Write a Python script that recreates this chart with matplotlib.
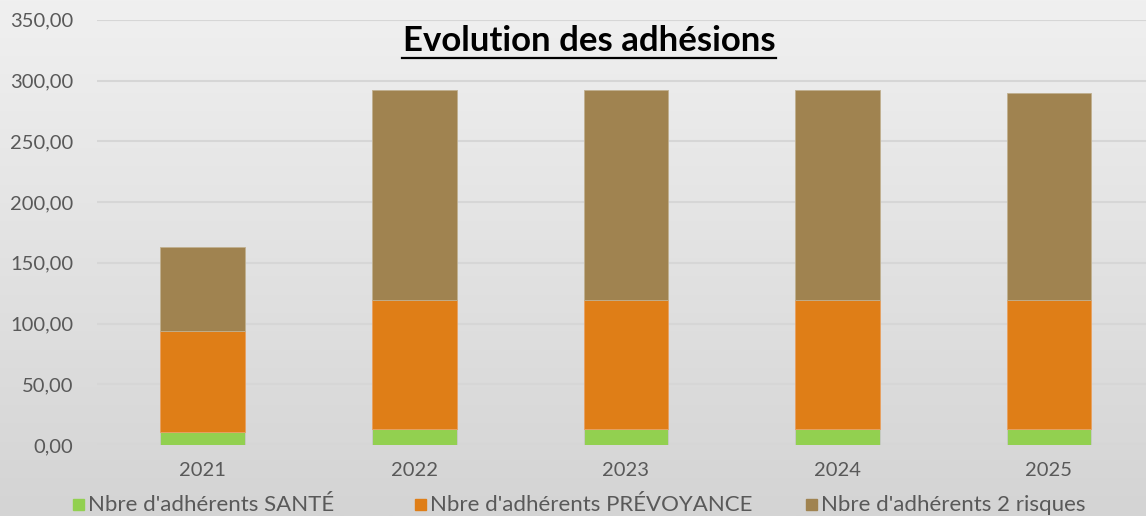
import matplotlib.pyplot as plt
import numpy as np
from matplotlib.patches import Rectangle
from matplotlib.lines import Line2D

years = ["2021", "2022", "2023", "2024", "2025"]
sante = [11, 13, 13, 13, 13]
prevoyance = [83, 106, 106, 106, 106]
deux_risques = [69, 173, 173, 173, 171]
labels = ["Nbre d'adhérents SANTÉ", "Nbre d'adhérents PRÉVOYANCE", "Nbre d'adhérents 2 risques"]
colors = ["#92d050", "#df7e17", "#a08350"]

plt.rcParams['font.family'] = ['Lato', 'DejaVu Sans']
txt = "#595959"

fig = plt.figure(figsize=(11.46, 5.16), dpi=100)

# gradient background
bg = fig.add_axes([0, 0, 1, 1], zorder=-1)
grad = np.linspace(0, 1, 256).reshape(-1, 1)
bg.imshow(grad, aspect='auto', cmap=plt.matplotlib.colors.LinearSegmentedColormap.from_list(
    'g', ['#f0f0f0', '#d4d4d4']), extent=[0, 1, 0, 1], origin='upper')
bg.set_axis_off()

ax = fig.add_axes([0.0846, 0.1376, 0.923, 0.824])
ax.set_facecolor('none')
x = np.arange(len(years))
w = 0.4
b1 = np.array(sante)
b2 = b1 + np.array(prevoyance)
ax.bar(x, sante, w, color=colors[0], edgecolor='#c8c8c8', linewidth=0.6, zorder=3)
ax.bar(x, prevoyance, w, bottom=b1, color=colors[1], edgecolor='#e8a060', linewidth=0.6, zorder=3)
ax.bar(x, deux_risques, w, bottom=b2, color=colors[2], edgecolor='#c0b090', linewidth=0.6, zorder=3)

ax.set_xlim(-0.5, len(years) - 0.5)
ax.set_ylim(0, 350)
ax.set_yticks(np.arange(0, 351, 50))
ax.set_yticklabels([f"{v:.2f}".replace('.', ',') for v in np.arange(0, 351, 50)])
ax.set_xticks(x)
ax.set_xticklabels(years)
ax.tick_params(axis='both', length=0, labelsize=14.5, colors=txt)
ax.tick_params(axis='y', pad=17)
ax.tick_params(axis='x', pad=12)
ax.grid(axis='y', color='#d6d6d6', linewidth=1.5, zorder=0)
for s in ax.spines.values():
    s.set_visible(False)

fig.text(0.514, 0.92, "Evolution des adhésions", ha='center', va='center',
         fontsize=25, fontweight='bold', color='black')
fig.add_artist(Line2D([0.351, 0.677], [0.888, 0.888], color='black', linewidth=1.6))

# legend
leg_x = [0.0637, 0.362, 0.703]
for lx, lab, c in zip(leg_x, labels, colors):
    fig.add_artist(Rectangle((lx, 0.012), 0.0095, 0.021, color=c, transform=fig.transFigure))
    fig.text(lx + 0.013, 0.021, lab, ha='left', va='center', fontsize=16, color=txt)

fig.savefig("out.png", dpi=100)
